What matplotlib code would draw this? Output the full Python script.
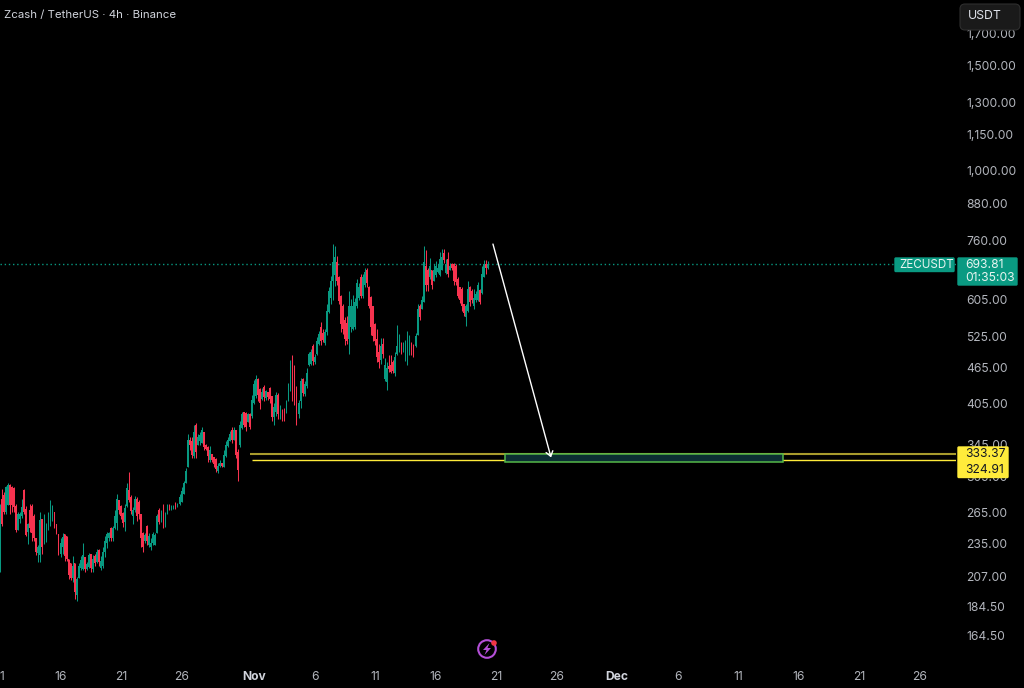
#!/usr/bin/env python3
import numpy as np
import matplotlib
matplotlib.use('Agg')
import matplotlib.pyplot as plt
from matplotlib.patches import Rectangle, FancyBboxPatch, Circle, Polygon

plt.rcParams['font.family'] = ['Inter', 'DejaVu Sans']

# --- 4h candles ---
opens = [
    219,280,284,266,273,295,293,292,272,248,259,262,290,269,246,268,272,262,240,227,
    225,259,238,240,250,255,262,266,254,244,226,232,244,242,222,218,206,218,193,206,
    214,213,223,213,215,226,213,224,219,229,214,216,228,236,240,250,240,250,255,278,
    272,265,256,272,290,282,262,268,280,276,264,245,238,252,234,232,236,234,245,268,
    256,272,252,264,272,268,269,274,271,274,276,285,298,316,352,350,330,372,345,350,
    348,362,345,342,325,333,329,327,312,318,321,316,330,343,350,365,352,366,335,
    345,368,392,390,377,388,385,405,416,446,428,412,432,414,424,430,416,384,392,418,
    386,395,396,392,410,428,480,462,425,388,408,445,420,434,470,472,505,476,490,510,
    545,532,512,535,578,610,650,665,700,660,615,590,560,552,520,545,540,545,590,610,
    660,615,640,680,635,612,590,550,520,495,480,510,445,440,468,470,475,455,490,
    495,512,495,480,490,495,510,505,505,527,590,585,600,690,680,660,680,650,665,675,
    665,680,725,672,710,680,695,695,690,655,635,630,595,565,580,635,625,590,605,605,
    628,622,662,695,685]
highs = [
    274,291,287,294,297,296,294,293,274,266,266,280,291,272,255,274,274,264,240,234,
    266,259,264,255,266,278,273,266,254,244,240,245,244,242,222,218,224,218,207,218,
    224,236,223,219,227,226,225,226,230,230,224,232,242,246,246,251,252,268,285,278,
    273,266,274,297,310,284,271,283,282,278,264,246,245,253,245,240,246,245,264,270,
    268,274,266,274,274,273,273,276,275,285,293,300,315,360,356,355,372,375,360,362,
    369,362,346,343,343,333,329,328,321,325,321,338,350,355,364,369,369,366,340,
    379,392,392,392,390,390,419,443,452,447,430,430,435,427,424,432,416,406,423,421,
    402,396,398,411,438,479,488,470,433,411,447,447,441,464,495,501,510,490,524,536,
    555,541,541,596,635,663,750,745,716,663,617,596,565,569,625,606,617,610,657,646,
    670,670,685,685,638,614,590,552,541,510,522,522,482,476,488,488,479,494,548,
    530,514,514,517,536,527,514,510,533,596,596,614,745,734,684,712,680,695,703,694,
    727,737,737,710,727,698,698,698,694,660,635,635,596,596,652,638,630,630,625,648,
    630,690,705,705,703]
lows = [
    211,252,264,264,273,264,266,266,246,248,255,260,264,242,235,246,238,238,225,219,
    219,226,235,237,248,252,257,250,244,225,223,226,220,220,205,204,203,190,188,206,
    212,212,211,212,214,211,211,216,218,216,212,214,223,231,238,238,238,249,248,264,
    259,251,247,271,276,264,254,266,257,259,232,228,236,234,232,229,234,234,245,254,
    256,250,251,264,268,268,269,269,271,273,276,285,298,316,338,328,328,328,345,345,
    348,338,338,323,323,323,317,310,309,316,316,316,329,342,350,348,352,328,300,
    342,367,369,364,377,367,383,404,414,409,396,410,409,411,411,406,379,372,386,381,
    381,379,379,390,409,425,409,402,372,382,398,417,417,430,468,470,470,472,489,507,
    507,514,507,527,574,596,604,638,642,596,534,530,507,510,490,534,538,541,586,605,
    610,610,635,637,586,527,515,507,476,464,472,482,442,427,458,455,455,450,489,
    494,490,494,478,470,488,488,485,503,527,560,583,600,625,625,656,630,650,660,672,
    663,680,698,668,660,678,680,640,642,610,598,580,569,546,578,590,598,584,600,603,
    595,620,660,670,683]
closes = [
    269,254,266,293,295,273,273,271,248,264,264,271,266,243,254,250,245,240,228,232,
    258,232,262,252,262,272,270,252,246,228,236,241,224,222,208,206,216,195,205,216,
    221,225,213,217,225,214,222,218,228,219,220,228,238,244,245,240,250,262,280,268,
    262,255,270,292,278,267,268,280,262,264,240,232,243,238,242,236,244,243,262,256,
    265,254,262,272,269,271,272,271,274,282,288,298,312,352,345,332,362,335,356,358,
    365,342,340,330,338,325,320,314,318,322,318,332,345,352,360,352,366,332,313,
    372,388,372,370,388,370,410,436,445,418,405,424,415,425,415,412,384,400,418,388,
    398,382,384,408,432,470,425,415,385,405,442,422,436,455,490,495,478,485,515,530,
    515,518,535,580,625,650,700,715,650,602,550,540,520,515,590,590,590,600,645,635,
    615,660,675,645,590,545,525,515,485,475,505,490,470,465,462,458,460,485,505,
    515,495,510,500,520,515,495,490,525,585,565,605,700,640,640,690,640,680,690,685,
    710,715,705,695,670,690,685,650,648,615,605,590,575,590,630,600,605,610,620,640,
    600,670,695,685,693.81]

price_ticks = [1700, 1500, 1300, 1150, 1000, 880, 760, 605, 525, 465, 405, 345, 305, 265, 235, 207, 184.5, 164.5]
date_ticks = [0, 30, 60, 90, 126, 156, 186, 216, 246, 276, 306, 336, 366, 396, 426, 456]
date_labels = ['11', '16', '21', '26', 'Nov', '6', '11', '16', '21', '26', 'Dec', '6', '11', '16', '21', '26']

last_price = 693.81
level_top = 333.37
level_bottom = 324.91
zone_start, zone_end = 250.4, 388.2
zone_high, zone_low = 333.2, 323.0
arrow_start = (244.4, 751)
arrow_end = (273.2, 328.4)

UP = '#089981'
DOWN = '#F7334F'
GREY = '#B2B5BC'

fig = plt.figure(figsize=(10.24, 6.88), dpi=100, facecolor='black')
ax = fig.add_axes([0, 28 / 688, 956 / 1024, 660 / 688], facecolor='black')

# --- candles ---
x = np.arange(len(closes))
o = np.array(opens, dtype=float)
c = np.array(closes, dtype=float)
colors = [UP if b >= a else DOWN for a, b in zip(o, c)]
ax.vlines(x, lows, highs, colors=colors, linewidth=0.75, zorder=2)
ax.bar(x, np.abs(c - o), bottom=np.minimum(o, c), width=0.85, color=colors, linewidth=0, zorder=3)

# --- levels, zone, arrow ---
ax.axhline(last_price, color=UP, linewidth=1, linestyle=(0, (1, 2)), zorder=1)
ax.hlines(level_top, 124, 480, color='#A89B2C', linewidth=1.5, zorder=4)
ax.hlines(level_bottom, 125, 480, color='#FFEB3B', linewidth=1, zorder=4)
ax.add_patch(Rectangle((zone_start, zone_low), zone_end - zone_start, zone_high - zone_low,
                       facecolor='#0C2E33', edgecolor='#55B84A', linewidth=1.1, zorder=5))
ax.annotate('', xy=arrow_end, xytext=arrow_start, zorder=6,
            arrowprops=dict(arrowstyle='->,head_length=0.35,head_width=0.25', color='white',
                            linewidth=1.0, shrinkA=0, shrinkB=0))

# --- axes ---
ax.set_yscale('log')
ax.set_xlim(0, 956 / 2.017)
ax.set_ylim(149.8, 1934)
for s in ax.spines.values():
    s.set_visible(False)
ax.yaxis.tick_right()
ax.minorticks_off()
ax.set_yticks(price_ticks)
ax.set_yticklabels([f'{p:,.2f}' for p in price_ticks], color=GREY, fontsize=8.7, ha='left')
ax.tick_params(axis='y', length=0, pad=7.3, which='both')
ax.set_xticks(date_ticks)
ax.set_xticklabels(date_labels, color=GREY, fontsize=8.7)
ax.tick_params(axis='x', length=0, pad=8)
for lab in ax.get_xticklabels():
    if lab.get_text() in ('Nov', 'Dec'):
        lab.set_fontweight('bold')
        lab.set_color('#D1D4DC')

# --- overlay in pixel coordinates for the TradingView chrome ---
ov = fig.add_axes([0, 0, 1, 1], facecolor='none', zorder=10)
ov.set_xlim(0, 1024)
ov.set_ylim(688, 0)
ov.axis('off')

ov.text(4, 15, 'Zcash / TetherUS · 4h · Binance', color='#D1D4DC', fontsize=8.25, va='center')

ov.add_patch(FancyBboxPatch((963, 7), 54, 20, boxstyle='round,pad=3,rounding_size=5',
                            facecolor='#1A1A1A', edgecolor='#2E2E2E', linewidth=0.8))
ov.text(968, 16, 'USDT', color='#E0E3EB', fontsize=8.8, va='center')

ov.add_patch(FancyBboxPatch((895, 258), 59, 13.5, boxstyle='round,pad=0.7,rounding_size=1.5',
                            facecolor='#0A9A82', edgecolor='none'))
ov.text(899, 265, 'ZECUSDT', color='#E8F5F1', fontsize=8.4, va='center')
ov.add_patch(FancyBboxPatch((958, 258), 59, 27, boxstyle='round,pad=0.7,rounding_size=1.5',
                            facecolor='#0A9A82', edgecolor='none'))
ov.text(965, 265, f'{last_price:.2f}', color='#E8F5F1', fontsize=8.7, va='center')
ov.text(965, 278, '01:35:03', color='#E8F5F1', fontsize=8.7, va='center')

ov.add_patch(FancyBboxPatch((958, 447), 50, 30.5, boxstyle='round,pad=0.7,rounding_size=1.5',
                            facecolor='#FFEB3B', edgecolor='none'))
ov.text(965, 454, f'{level_top:.2f}', color='#131722', fontsize=8.7, va='center')
ov.text(965, 470, f'{level_bottom:.2f}', color='#131722', fontsize=8.7, va='center')

# logo
ov.add_patch(Circle((487, 649), 8.8, facecolor='none', edgecolor='#B44FD8', linewidth=1.5))
ov.add_patch(Polygon([(489.5, 643), (483, 650), (486.5, 650), (484.5, 655), (491, 648), (487.5, 648)],
                     facecolor='#B44FD8', edgecolor='none'))
ov.add_patch(Circle((494, 643), 2.8, facecolor='#F23645', edgecolor='none'))

fig.savefig('out.png', dpi=100, facecolor='black')
